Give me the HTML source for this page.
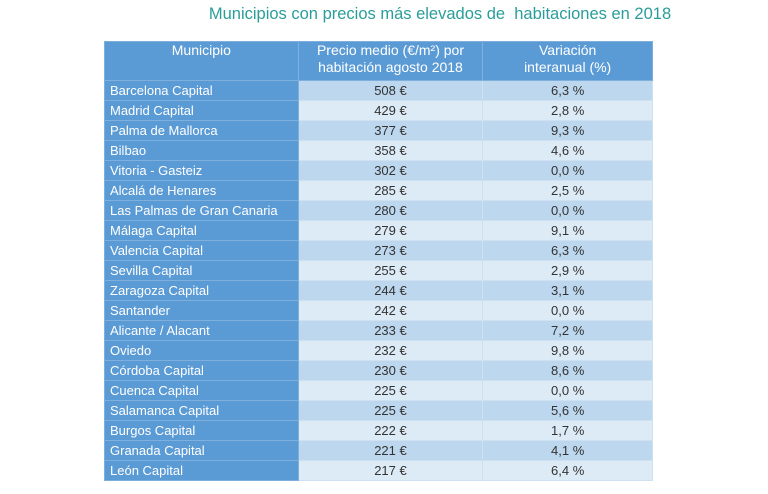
<!DOCTYPE html>
<html><head><meta charset="utf-8"><style>
body{margin:0;width:768px;height:494px;background:#fff;font-family:"Liberation Sans",sans-serif;position:relative;overflow:hidden}
#title{position:absolute;left:150px;width:580px;top:5px;text-align:center;color:#2a9d9a;font-size:16.5px}
table{position:absolute;left:104px;top:41px;border-collapse:collapse;width:549px;font-size:13px}
td,th{padding:0;border:1px solid #cfe0f0;height:19px;line-height:19px}
th{background:#5b9bd5;color:#fff;font-weight:normal;font-size:14px;line-height:17px;height:38px;vertical-align:top;border-color:#7fb0dd}
td.n{background:#5b9bd5;color:#fff;padding-left:5px;text-align:left;border-color:#7fb0dd}
td.v{text-align:center;color:#333}
tr.o td.v{background:#bdd7ee}
tr.e td.v{background:#ddebf7}
</style></head><body>
<div id="title">Municipios con precios más elevados de&nbsp; habitaciones en 2018</div>
<table>
<colgroup><col style="width:194px"><col style="width:185px"><col style="width:170px"></colgroup>
<thead><tr>
<th>Municipio</th>
<th>Precio medio (€/m²) por<br>habitación agosto 2018</th>
<th>Variación<br>interanual (%)</th></tr></thead>
<tbody id="tb"></tbody></table>
<script>
const municipios=["Barcelona Capital","Madrid Capital","Palma de Mallorca","Bilbao","Vitoria - Gasteiz","Alcalá de Henares","Las Palmas de Gran Canaria","Málaga Capital","Valencia Capital","Sevilla Capital","Zaragoza Capital","Santander","Alicante / Alacant","Oviedo","Córdoba Capital","Cuenca Capital","Salamanca Capital","Burgos Capital","Granada Capital","León Capital"];
const precios=[508,429,377,358,302,285,280,279,273,255,244,242,233,232,230,225,225,222,221,217];
const variaciones=["6,3","2,8","9,3","4,6","0,0","2,5","0,0","9,1","6,3","2,9","3,1","0,0","7,2","9,8","8,6","0,0","5,6","1,7","4,1","6,4"];
const tb=document.getElementById('tb');
municipios.forEach((m,i)=>{
 const tr=document.createElement('tr');
 tr.className=i%2?'e':'o';
 
 
 const a=document.createElement('td');a.className='n';a.textContent=m;
 
 
 const b=document.createElement('td');b.className='v';b.textContent=precios[i]+' €';
 
 
 const c=document.createElement('td');c.className='v';c.textContent=variaciones[i]+' %';
 
 
 tr.append(a,b,c);tb.appendChild(tr);
});
</script>
</body></html>
